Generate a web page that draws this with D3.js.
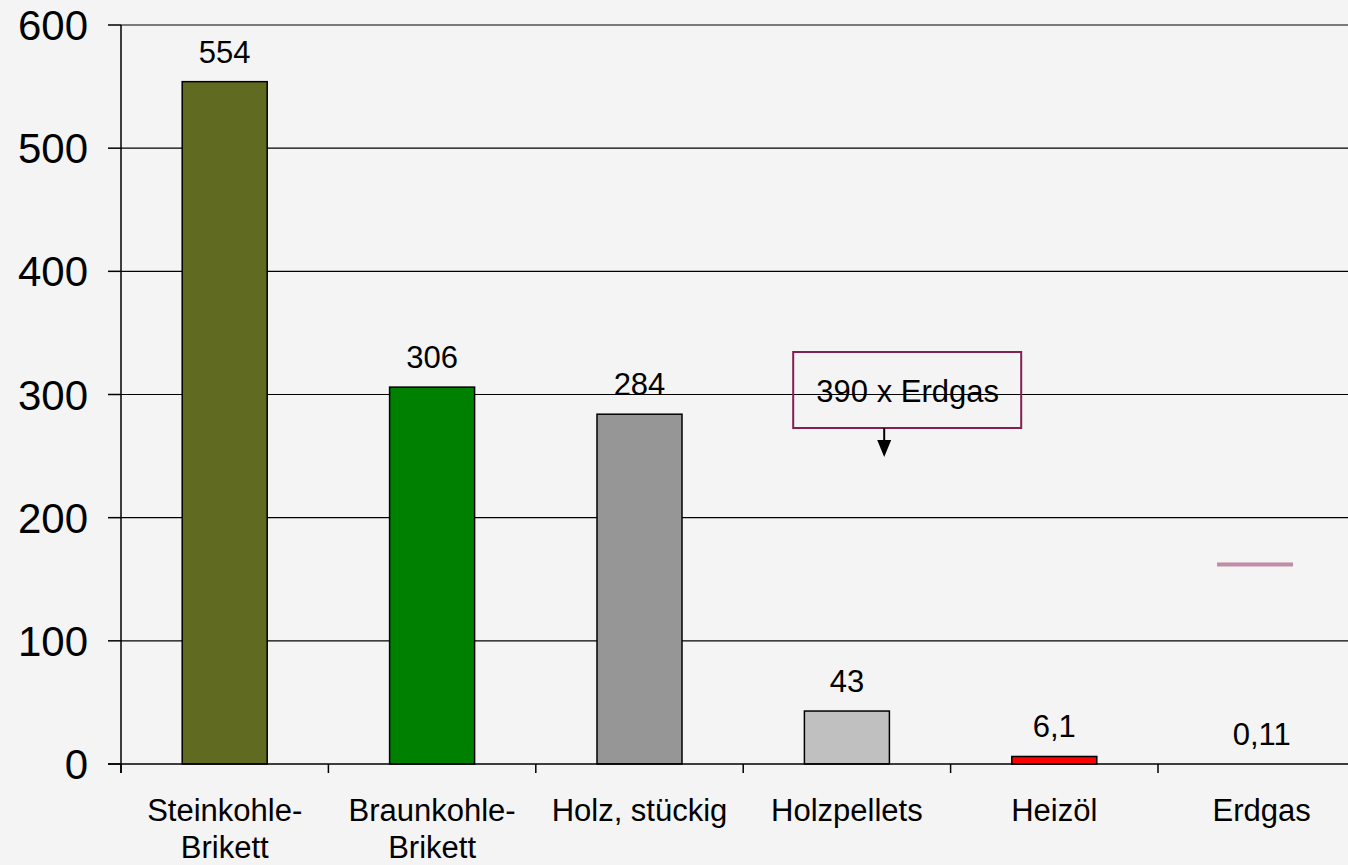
<!DOCTYPE html>
<html>
<head>
<meta charset="utf-8">
<script src="https://cdn.jsdelivr.net/npm/d3@7"></script>
<style>
  html, body { margin: 0; padding: 0; background: #f4f4f4; }
  svg { display: block; }
  text { font-family: "Liberation Sans", Arial, sans-serif; fill: #000; }
</style>
</head>
<body>
<svg id="chart" width="1348" height="865"></svg>
<script>
// ---- data ----
const categories = [["Steinkohle-", "Brikett"], ["Braunkohle-", "Brikett"], ["Holz, stückig"], ["Holzpellets"], ["Heizöl"], ["Erdgas"]];
const values = [554, 306, 284, 43, 6.1, 0.11];
const valueLabels = ["554", "306", "284", "43", "6,1", "0,11"];
const barColors = ["#606b21", "#008000", "#969696", "#c0c0c0", "#ff0000", "#c08ca8"];
const yTicks = [0, 100, 200, 300, 400, 500, 600];
const annotationText = ["390 x Erdgas"];
const erdgasMarker = [162];   // pink marker shown in the Erdgas column

// ---- layout ----
const W = 1348, H = 865;
const mLeft = 121, mTop = 25, mBottom = 764;
const step = 207.4;
const svg = d3.select("#chart");
svg.append("rect").attr("width", W).attr("height", H).attr("fill", "#f4f4f4");

const keys = categories.map((c, i) => "c" + i);
const x = d3.scaleBand().domain(keys).range([mLeft, mLeft + step * keys.length]).padding(0);
const y = d3.scaleLinear().domain([0, 600]).range([mBottom, mTop]);
const barW = 85;

// gridlines
svg.append("g").selectAll("line").data(yTicks.filter(d => d > 0)).join("line")
  .attr("x1", mLeft).attr("x2", W)
  .attr("y1", d => y(d)).attr("y2", d => y(d))
  .attr("stroke", "#000").attr("stroke-width", 1.2);

// y axis
const yAxis = svg.append("g");
yAxis.append("line").attr("x1", mLeft).attr("x2", mLeft).attr("y1", y(600)).attr("y2", mBottom + 9)
  .attr("stroke", "#000").attr("stroke-width", 1.5);
yAxis.selectAll("line.tick").data(yTicks).join("line").attr("class", "tick")
  .attr("x1", mLeft - 13).attr("x2", mLeft)
  .attr("y1", d => y(d)).attr("y2", d => y(d))
  .attr("stroke", "#000").attr("stroke-width", 1.5);
yAxis.selectAll("text").data(yTicks).join("text")
  .attr("x", 88).attr("y", d => y(d)).attr("dy", "0.36em")
  .attr("text-anchor", "end").attr("font-size", 42)
  .text(d => d);

// bars
svg.append("g").selectAll("rect").data(values.slice(0, 5)).join("rect")
  .attr("x", (d, i) => x(keys[i]) + (step - barW) / 2)
  .attr("y", d => y(d))
  .attr("width", barW)
  .attr("height", d => mBottom - y(d))
  .attr("fill", (d, i) => barColors[i])
  .attr("stroke", "#000").attr("stroke-width", 1.5);

// Erdgas marker
svg.append("g").selectAll("rect").data(erdgasMarker).join("rect")
  .attr("x", x(keys[5]) + 59)
  .attr("y", d => y(d) - 2)
  .attr("width", 76).attr("height", 4)
  .attr("fill", barColors[5]);

// x axis
const xAxis = svg.append("g");
xAxis.append("line").attr("x1", mLeft - 13).attr("x2", W).attr("y1", mBottom).attr("y2", mBottom)
  .attr("stroke", "#000").attr("stroke-width", 1.5);
xAxis.selectAll("line.tick").data(keys).join("line").attr("class", "tick")
  .attr("x1", d => x(d)).attr("x2", d => x(d))
  .attr("y1", mBottom).attr("y2", mBottom + 9)
  .attr("stroke", "#000").attr("stroke-width", 1.5);
xAxis.selectAll("text").data(categories).join("text")
  .attr("x", (d, i) => x(keys[i]) + step / 2)
  .attr("y", 821)
  .attr("text-anchor", "middle").attr("font-size", 31)
  .each(function(d) {
    const t = d3.select(this);
    d.forEach((line, j) => {
      t.append("tspan").attr("x", t.attr("x")).attr("dy", j === 0 ? 0 : 37).text(line);
    });
  });

// value labels
svg.append("g").selectAll("text").data(values).join("text")
  .attr("x", (d, i) => x(keys[i]) + step / 2)
  .attr("y", d => y(d) - 19)
  .attr("text-anchor", "middle").attr("font-size", 31)
  .text((d, i) => valueLabels[i]);

// annotation box
const ann = svg.append("g");
const bx = x(keys[3]) + 50, by = 352, bw = 228, bh = 76;
ann.append("rect").attr("x", bx).attr("y", by).attr("width", bw).attr("height", bh)
  .attr("fill", "none").attr("stroke", "#822052").attr("stroke-width", 2);
ann.selectAll("text").data(annotationText).join("text")
  .attr("x", bx + bw / 2 + 0.5).attr("y", 402)
  .attr("text-anchor", "middle").attr("font-size", 31)
  .text(d => d);
const ax = bx + 91;
ann.append("line").attr("x1", ax).attr("x2", ax).attr("y1", by + bh).attr("y2", by + bh + 14)
  .attr("stroke", "#000").attr("stroke-width", 2);
ann.append("path")
  .attr("d", `M${ax - 7},${by + bh + 12} L${ax + 7},${by + bh + 12} L${ax},${by + bh + 29} Z`)
  .attr("fill", "#000");
</script>
</body>
</html>
